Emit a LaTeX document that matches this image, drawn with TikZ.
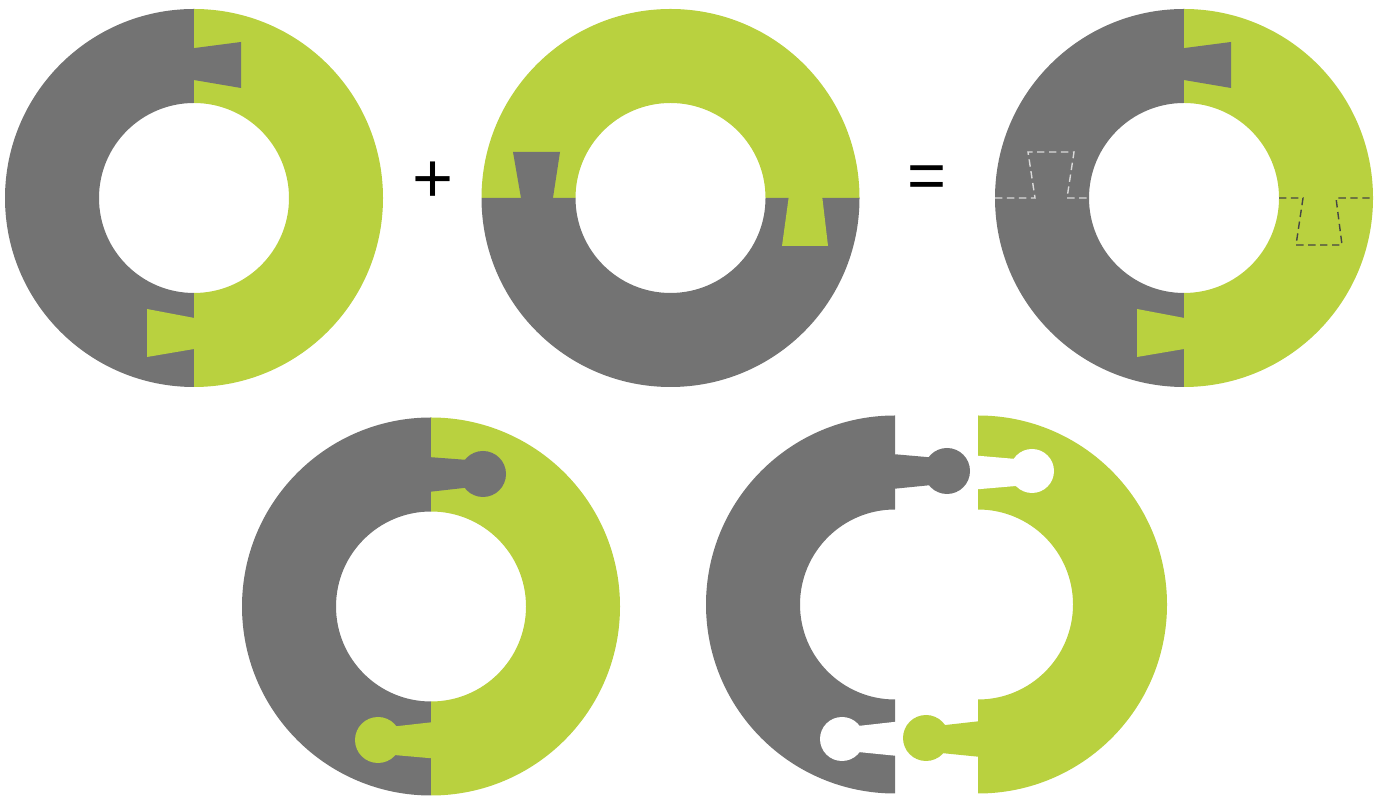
\documentclass[tikz,border=0pt]{standalone}
\usepackage{fontspec}
\setmainfont{Liberation Sans}
\usepackage{xcolor}
\usetikzlibrary{calc}
\definecolor{ringgrey}{HTML}{737373}
\definecolor{ringlime}{HTML}{B9D13F}
\definecolor{seamlight}{HTML}{DADADA}
\definecolor{seamdark}{HTML}{454545}

\begin{document}
\begin{tikzpicture}[x=0.1mm, y=-0.1mm]

        % 1. Define the radii, the page and the ring centres
        \pgfmathsetmacro{\Rout}{189} % Outer radius of every ring
        \pgfmathsetmacro{\Rin}{95}   % Inner radius of every ring
        \useasboundingbox (0,0) rectangle (1379,797);

        \coordinate (O1) at (194,198);   % Top row, left ring
        \coordinate (O2) at (670.5,198); % Top row, middle ring
        \coordinate (O3) at (1184,198);  % Top row, right ring
        \coordinate (O4) at (431,606.5); % Bottom row, closed ring
        \coordinate (G5) at (895,604.5); % Bottom row, grey half
        \coordinate (L5) at (978,604.5); % Bottom row, lime half

        \tikzset{greypart/.style={fill=ringgrey}, limepart/.style={fill=ringlime}, hole/.style={fill=white},
                 seam/.style={dash pattern=on 2.1pt off 1.3pt, line width=0.4pt}}

        % 2. Top left ring: grey left half, lime right half, dovetails
        \fill[greypart] ($(O1)+(270:\Rout)$) arc[start angle=270, end angle=90, radius=\Rout] -- ++(0,\Rin-\Rout) arc[start angle=90, end angle=270, radius=\Rin] -- cycle;
        \fill[limepart] ($(O1)+(270:\Rout)$) arc[start angle=270, end angle=450, radius=\Rout] -- ++(0,\Rin-\Rout) arc[start angle=90, end angle=-90, radius=\Rin] -- cycle;
        \fill[greypart] (191,48.5) -- (241,42) -- (241,88) -- (191,79.5) -- cycle;
        \fill[limepart] (197,318.5) -- (147,309) -- (147,357) -- (197,348.5) -- cycle;

        % Plus sign
        \node (plus) at (433,182) {\fontsize{20}{20}\selectfont +};

        % 3. Top middle ring: lime top half, grey bottom half, dovetails
        \fill[limepart] ($(O2)+(180:\Rout)$) arc[start angle=180, end angle=360, radius=\Rout] -- ++(\Rin-\Rout,0) arc[start angle=0, end angle=-180, radius=\Rin] -- cycle;
        \fill[greypart] ($(O2)+(180:\Rout)$) arc[start angle=180, end angle=0, radius=\Rout] -- ++(\Rin-\Rout,0) arc[start angle=0, end angle=180, radius=\Rin] -- cycle;
        \fill[greypart] (521.5,201) -- (513,152) -- (560,152) -- (552.5,201) -- cycle;
        \fill[limepart] (789,195) -- (782,246) -- (828,246) -- (822,195) -- cycle;

        % Equals sign
        \node (equals) at (927,182) {\fontsize{19}{19}\selectfont =};

        % 4. Top right ring: the sum, with the cut lines of the middle ring
        \fill[greypart] ($(O3)+(270:\Rout)$) arc[start angle=270, end angle=90, radius=\Rout] -- ++(0,\Rin-\Rout) arc[start angle=90, end angle=270, radius=\Rin] -- cycle;
        \fill[limepart] ($(O3)+(270:\Rout)$) arc[start angle=270, end angle=450, radius=\Rout] -- ++(0,\Rin-\Rout) arc[start angle=90, end angle=-90, radius=\Rin] -- cycle;
        \fill[greypart] (1181,48.5) -- (1231,42) -- (1231,88) -- (1181,79.5) -- cycle;
        \fill[limepart] (1187,318.5) -- (1137,309) -- (1137,357) -- (1187,348.5) -- cycle;
        \draw[seam, seamlight] (995,198) -- (1035,198) -- (1028,152) -- (1074,152) -- (1067,198) -- (1089,198);
        \draw[seam, seamdark] (1279,198) -- (1303,198) -- (1296,245) -- (1342,245) -- (1336,198) -- (1373,198);

        % 5. Bottom left ring: round knobs instead of dovetails
        \fill[greypart] ($(O4)+(270:\Rout)$) arc[start angle=270, end angle=90, radius=\Rout] -- ++(0,\Rin-\Rout) arc[start angle=90, end angle=270, radius=\Rin] -- cycle;
        \fill[limepart] ($(O4)+(270:\Rout)$) arc[start angle=270, end angle=450, radius=\Rout] -- ++(0,\Rin-\Rout) arc[start angle=90, end angle=-90, radius=\Rin] -- cycle;
        \fill[greypart] (428,457) -- (468,460) -- (468,487.5) -- (428,492) -- cycle;
        \fill[greypart] (483,474) circle[radius=23];
        \fill[limepart] (434,722) -- (394,726.5) -- (394,755) -- (434,758.5) -- cycle;
        \fill[limepart] (378,740) circle[radius=23];

        % 6. Bottom right ring: the two halves pulled apart
        \fill[greypart] ($(G5)+(270:\Rout)$) arc[start angle=270, end angle=90, radius=\Rout] -- ++(0,\Rin-\Rout) arc[start angle=90, end angle=270, radius=\Rin] -- cycle;
        \fill[limepart] ($(L5)+(270:\Rout)$) arc[start angle=270, end angle=450, radius=\Rout] -- ++(0,\Rin-\Rout) arc[start angle=90, end angle=-90, radius=\Rin] -- cycle;
        % Grey knob and grey socket
        \fill[greypart] (892,454) -- (932,457.5) -- (932,485) -- (892,489) -- cycle;
        \fill[greypart] (947,471) circle[radius=23];
        \fill[hole] (858,726) -- (898,721.5) -- (898,756) -- (858,752) -- cycle;
        \fill[hole] (842,739) circle[radius=22];
        % Lime socket and lime knob
        \fill[hole] (975,455.5) -- (1016,459) -- (1016,486) -- (975,489.5) -- cycle;
        \fill[hole] (1032,471) circle[radius=22];
        \fill[limepart] (981,721) -- (941,725.5) -- (941,753) -- (981,757) -- cycle;
        \fill[limepart] (926,738) circle[radius=23];

\end{tikzpicture}
\end{document}
